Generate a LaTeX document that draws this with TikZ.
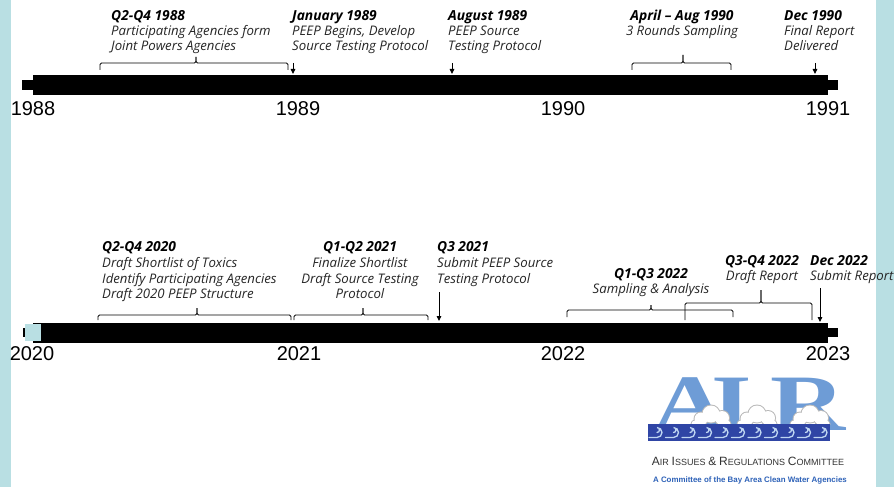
\documentclass[tikz,border=0pt]{standalone}
\usepackage{fontspec}
\setmainfont{Open Sans}
\newfontfamily\yrfont{Liberation Sans}
\newfontfamily\logoserif{Liberation Serif}
\newfontfamily\logosans{Liberation Sans}
\usetikzlibrary{arrows.meta}
\definecolor{strip}{HTML}{B9DFE3}
\definecolor{txtgray}{HTML}{262626}
\definecolor{logoblue}{HTML}{6E9CD6}
\definecolor{logodark}{HTML}{3F5E9A}
\definecolor{waveblue}{HTML}{2F45A5}
\definecolor{curl}{HTML}{BFD6F2}
\definecolor{logotext}{HTML}{333333}
\definecolor{logosub}{HTML}{2E62B8}
\newcommand\tlbrace[6]{%
  \draw[brk] (#1,#5) -- (#1,#4) -- (#3,#4) -- (#3,#6);
  \draw[brk] (#2,#5) -- (#2,#4) -- (#3,#4) -- (#3,#6);}
\newcommand\bigsm[2]{{\fontsize{12}{12}\selectfont #1}{\fontsize{9}{9}\selectfont #2}}
\begin{document}
\begin{tikzpicture}[x=1pt,y=-1pt,
  hd/.style={font=\fontsize{13.8}{15}\selectfont\bfseries\itshape, inner sep=0pt, text=black},
  tx/.style={font=\fontsize{13.2}{15}\selectfont\itshape, inner sep=0pt, text=txtgray},
  yr/.style={font=\yrfont\fontsize{20}{24}\selectfont, inner sep=0pt, anchor=base, text=black},
  brk/.style={draw=black, line width=0.8pt, rounded corners=1.5pt},
  arr/.style={draw=black, line width=0.9pt, -{Triangle[length=5pt,width=4.5pt]}},
  letter/.style={font=\logoserif\bfseries\fontsize{80}{80}\selectfont, inner sep=0pt, anchor=base west, xscale=1.3},
  cloud/.style={fill=white}]
\useasboundingbox (0,0) rectangle (894,487);
\fill[white] (0,0) rectangle (894,487);
\fill[strip] (0,0) rectangle (11,487);
\fill[strip] (876,0) rectangle (894,487);

% ---------- top timeline ----------
\fill[black] (22,80) rectangle (33,90);
\fill[black] (33,75) rectangle (828,95);
\fill[black] (828,80) rectangle (838,90);
\node[yr] (y1988) at (33,115) {1988};
\node[yr] (y1989) at (298,115) {1989};
\node[yr] (y1990) at (563,115) {1990};
\node[yr] (y1991) at (828,115) {1991};

\node[hd, anchor=base west] (h1) at (111,21) {Q2-Q4 1988};
\node[tx, anchor=base west] (h1a) at (111,36) {Participating Agencies form};
\node[tx, anchor=base west] (h1b) at (111,51) {Joint Powers Agencies};
\tlbrace{100}{288}{196}{63}{70}{57}

\node[hd, anchor=base west] (h2) at (292,21) {January 1989};
\node[tx, anchor=base west] (h2a) at (292,36) {PEEP Begins, Develop};
\node[tx, anchor=base west] (h2b) at (292,51) {Source Testing Protocol};
\coordinate (a2s) at (293,63); \coordinate (a2e) at (293,74);
\draw[arr] (a2s) -- (a2e);

\node[hd, anchor=base west] (h3) at (448,21) {August 1989};
\node[tx, anchor=base west] (h3a) at (448,36) {PEEP Source};
\node[tx, anchor=base west] (h3b) at (448,51) {Testing Protocol};
\coordinate (a3s) at (452,63); \coordinate (a3e) at (452,74);
\draw[arr] (a3s) -- (a3e);

\node[hd, anchor=base] (h4) at (682,21) {April – Aug 1990};
\node[tx, anchor=base] (h4a) at (682,36) {3 Rounds Sampling};
\tlbrace{632}{731}{683}{63}{70}{55}

\node[hd, anchor=base west] (h5) at (784,21) {Dec 1990};
\node[tx, anchor=base west] (h5a) at (784,36) {Final Report};
\node[tx, anchor=base west] (h5b) at (784,51) {Delivered};
\coordinate (a5s) at (815,63); \coordinate (a5e) at (815,74);
\draw[arr] (a5s) -- (a5e);

% ---------- bottom timeline ----------
\fill[black] (23,328) rectangle (33,337);
\fill[black] (33,323) rectangle (828,343);
\fill[black] (828,328) rectangle (838,337);
\fill[strip] (25,324) rectangle (41,341);
\node[yr] (y2020) at (32,360) {2020};
\node[yr] (y2021) at (299,360) {2021};
\node[yr] (y2022) at (563,360) {2022};
\node[yr] (y2023) at (828,360) {2023};

\node[hd, anchor=base west] (b1) at (102,251) {Q2-Q4 2020};
\node[tx, anchor=base west] (b1a) at (102,267) {Draft Shortlist of Toxics};
\node[tx, anchor=base west] (b1b) at (102,283) {Identify Participating Agencies};
\node[tx, anchor=base west] (b1c) at (102,298) {Draft 2020 PEEP Structure};
\tlbrace{98}{291}{197}{315}{320}{308}

\node[hd, anchor=base] (b2) at (360,251) {Q1-Q2 2021};
\node[tx, anchor=base] (b2a) at (360,267) {Finalize Shortlist};
\node[tx, anchor=base] (b2b) at (360,283) {Draft Source Testing};
\node[tx, anchor=base] (b2c) at (360,298) {Protocol};
\tlbrace{294}{428}{363}{315}{320}{308}

\node[hd, anchor=base west] (b3) at (437,251) {Q3 2021};
\node[tx, anchor=base west] (b3a) at (437,267) {Submit PEEP Source};
\node[tx, anchor=base west] (b3b) at (437,283) {Testing Protocol};
\coordinate (c3s) at (439,292); \coordinate (c3e) at (439,321);
\draw[arr] (c3s) -- (c3e);

\node[hd, anchor=base] (b4) at (651,278) {Q1-Q3 2022};
\node[tx, anchor=base] (b4a) at (651,293) {Sampling \& Analysis};
\tlbrace{567}{733}{651}{310}{317}{305}

\node[hd, anchor=base] (b5) at (762,265) {Q3-Q4 2022};
\node[tx, anchor=base] (b5a) at (762,280) {Draft Report};
\tlbrace{685}{812}{761}{303}{320}{290}

\node[hd, anchor=base west] (b6) at (810,265) {Dec 2022};
\node[tx, anchor=base west] (b6a) at (810,280) {Submit Report};
\coordinate (c6s) at (820,288); \coordinate (c6e) at (820,322);
\draw[arr] (c6s) -- (c6e);

% ---------- logo ----------
\node[letter, text=logoblue] (lair) at (652,430) {A\kern-12pt I\kern14pt R};
% clouds
\foreach \cx in {711,757,810}{
  \fill[gray!55] (\cx-17,428) rectangle (\cx+17,424);
  \fill[gray!55] (\cx-10,419) circle (7.5);
  \fill[gray!55] (\cx,414) circle (9.5);
  \fill[gray!55] (\cx+11,418) circle (8);
  \fill[gray!55] (\cx-16,424) circle (4.5);
  \fill[gray!55] (\cx+16,424) circle (4.5);
  \fill[cloud] (\cx-16.5,427) rectangle (\cx+16.5,424);
  \fill[cloud] (\cx-10,419) circle (6.5);
  \fill[cloud] (\cx,414) circle (8.5);
  \fill[cloud] (\cx+11,418) circle (7);
  \fill[cloud] (\cx-16,424) circle (3.5);
  \fill[cloud] (\cx+16,424) circle (3.5);
}
% waves
\fill[waveblue] (648,424) rectangle (830,441);
\foreach \i in {0,...,10}{
  \pgfmathsetmacro\cx{657+16.5*\i}
  \draw[curl, line width=1.3pt, line cap=round] (\cx-8,437.5) -- (\cx,437.5) arc[start angle=90, end angle=-90, radius=5] arc[start angle=-90, end angle=90, radius=2.5];
}
\node[font=\logosans, text=logotext, inner sep=0pt, anchor=base] (lt1) at (748,465)
  {\bigsm{A}{IR} \bigsm{I}{SSUES} \bigsm{\&}{} \bigsm{R}{EGULATIONS} \bigsm{C}{OMMITTEE}};
\node[font=\logosans\bfseries\fontsize{7.9}{8}\selectfont, text=logosub, inner sep=0pt, anchor=base] (lt2) at (750,482)
  {A Committee of the Bay Area Clean Water Agencies};
\end{tikzpicture}
\end{document}
